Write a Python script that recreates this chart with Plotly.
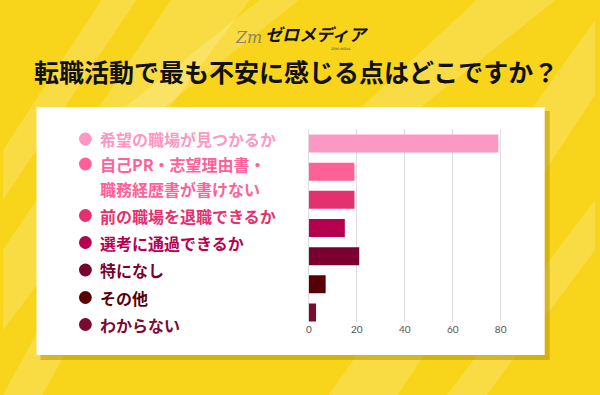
import plotly.graph_objects as go

# ---- data ----
categories = [
    "希望の職場が見つかるか",
    "自己PR・志望理由書・職務経歴書が書けない",
    "前の職場を退職できるか",
    "選考に通過できるか",
    "特になし",
    "その他",
    "わからない",
]
label_lines = [
    ["希望の職場が見つかるか"],
    ["自己PR・志望理由書・", "職務経歴書が書けない"],
    ["前の職場を退職できるか"],
    ["選考に通過できるか"],
    ["特になし"],
    ["その他"],
    ["わからない"],
]
values = [79, 19, 19, 15, 21, 7, 3]
colors = ["#FD97C3", "#FF6098", "#E4306F", "#B5004F", "#7A0030", "#560006", "#7A0A32"]
tick_vals = [0, 20, 40, 60, 80]
title_text = "転職活動で最も不安に感じる点はどこですか？"

W, H = 600, 395


def px(x):
    return x / W


def py(y):
    return 1 - y / H


fig = go.Figure()
fig.add_trace(go.Bar(
    x=values, y=categories, orientation="h",
    marker=dict(color=colors, line=dict(width=0)),
    width=0.64, showlegend=False, hoverinfo="x+y",
))

shapes = []
# background light stripes
stripes = [
    [(0, 330), (0, 250), (170, 0), (250, 0)],
    [(0, 200), (0, 150), (100, 0), (135, 0)],
    [(330, 395), (400, 395), (600, 95), (600, 20)],
    [(450, 395), (490, 395), (600, 250), (600, 200)],
    [(260, 0), (300, 0), (160, 110), (120, 110)],
    [(480, 0), (560, 0), (420, 110), (360, 110)],
    [(0, 395), (40, 395), (120, 250), (80, 250)],
]
for poly in stripes:
    path = "M " + " L ".join(f"{px(x)},{py(y)}" for x, y in poly) + " Z"
    shapes.append(dict(type="path", path=path, xref="paper", yref="paper",
                       fillcolor="rgba(255,255,255,0.18)", line=dict(width=0), layer="below"))
# panel shadow
shapes.append(dict(type="rect", xref="paper", yref="paper",
                   x0=px(38), x1=px(554), y0=py(360), y1=py(111),
                   fillcolor="rgba(170,135,0,0.45)", line=dict(width=0), layer="below"))
# white panel
shapes.append(dict(type="rect", xref="paper", yref="paper",
                   x0=px(34), x1=px(549), y0=py(355), y1=py(107),
                   fillcolor="#FFFFFF", line=dict(width=0), layer="below"))

annotations = []
# legend labels with dots
item_y = [139, 164, 215.5, 242.5, 270, 297.5, 324.5]
line_gap = 24.5
for i, lines in enumerate(label_lines):
    y0 = item_y[i]
    shapes.append(dict(type="circle", xref="paper", yref="paper",
                       x0=px(83.5 - 6.5), x1=px(83.5 + 6.5), y0=py(y0 + 6.5), y1=py(y0 - 6.5),
                       fillcolor=colors[i], line=dict(width=0)))
    for j, t in enumerate(lines):
        annotations.append(dict(
            text=t, xref="paper", yref="paper", x=px(96), y=py(y0 + j * line_gap),
            xanchor="left", yanchor="middle", showarrow=False,
            font=dict(family="Noto Sans CJK JP", size=16, color=colors[i], weight="bold"),
        ))

# title
annotations.append(dict(
    text=title_text, xref="paper", yref="paper", x=px(297), y=py(71),
    xanchor="center", yanchor="middle", showarrow=False,
    font=dict(family="Noto Sans CJK JP", size=25, color="#111111", weight="bold"),
))
# logo
annotations.append(dict(
    text="<i>Zm</i>", xref="paper", yref="paper", x=px(249), y=py(37),
    xanchor="center", yanchor="middle", showarrow=False,
    font=dict(family="DejaVu Serif", size=16, color="#8A8468"),
))
annotations.append(dict(
    text="<i>ゼロメディア</i>", xref="paper", yref="paper", x=px(318), y=py(33),
    xanchor="center", yanchor="middle", showarrow=False,
    font=dict(family="Noto Sans CJK JP", size=17, color="#111111", weight="bold"),
))
annotations.append(dict(
    text="ZERO-MEDIA", xref="paper", yref="paper", x=px(343), y=py(49),
    xanchor="center", yanchor="middle", showarrow=False,
    font=dict(family="DejaVu Sans", size=3, color="#444444"),
))

fig.update_layout(
    width=W, height=H, autosize=False,
    margin=dict(l=0, r=0, t=0, b=0),
    paper_bgcolor="#F8D51A", plot_bgcolor="rgba(0,0,0,0)",
    shapes=shapes, annotations=annotations,
    xaxis=dict(
        domain=[px(310), px(505.6)], range=[0, 80.5],
        tickvals=tick_vals, ticktext=[str(v) for v in tick_vals],
        showgrid=True, gridcolor="#DEDEDE", gridwidth=1,
        zeroline=True, zerolinecolor="#DEDEDE", zerolinewidth=1,
        showline=False, ticks="",
        tickfont=dict(family="Lato", size=10, color="#555555"),
        fixedrange=True,
    ),
    yaxis=dict(
        domain=[py(322), py(129)], type="category",
        categoryorder="array", categoryarray=categories,
        range=[6.337, -0.515],
        showticklabels=False, showgrid=False, zeroline=False, ticks="",
        fixedrange=True,
    ),
    bargap=0.36,
)

fig.write_html(
    "out.html",
    config={"displayModeBar": False},
    post_script="document.body.style.margin='0';document.body.style.overflow='hidden';",
)
